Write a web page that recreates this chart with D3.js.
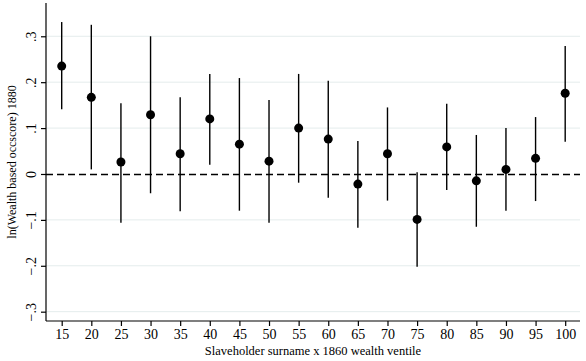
<!DOCTYPE html>
<html>
<head>
<meta charset="utf-8">
<script src="https://cdn.jsdelivr.net/npm/d3@7"></script>
<style>
  body { margin: 0; background: #fff; }
  svg text { font-family: "Liberation Serif", "Times New Roman", serif; fill: #000; }
</style>
</head>
<body>
<div id="myPlot"></div>
<script>
// Data
const ventiles  = [15, 20, 25, 30, 35, 40, 45, 50, 55, 60, 65, 70, 75, 80, 85, 90, 95, 100];
const estimates = [0.235, 0.167, 0.026, 0.129, 0.044, 0.120, 0.065, 0.028, 0.100, 0.076, -0.022, 0.044, -0.099, 0.059, -0.015, 0.010, 0.034, 0.176];
const ciLow     = [0.141, 0.010, -0.106, -0.042, -0.081, 0.020, -0.080, -0.106, -0.019, -0.052, -0.117, -0.058, -0.202, -0.035, -0.115, -0.080, -0.059, 0.070];
const ciHigh    = [0.331, 0.325, 0.154, 0.300, 0.167, 0.218, 0.209, 0.161, 0.218, 0.203, 0.072, 0.145, 0.004, 0.153, 0.085, 0.100, 0.124, 0.279];
const yTicks = [-0.3, -0.2, -0.1, 0, 0.1, 0.2, 0.3];

const rows = ventiles.map((v, i) => ({ v: v, est: estimates[i], lo: ciLow[i], hi: ciHigh[i] }));

// Dimensions
const width = 586, height = 361;
const pLeft = 46, pRight = 580, pTop = 3, pBottom = 321;

const svg = d3.select("#myPlot")
  .append("svg")
  .attr("width", width)
  .attr("height", height);

const x = d3.scaleLinear().domain([12.35, 102.5]).range([pLeft, pRight]);
const y = d3.scaleLinear().domain([-0.3203, 0.3725]).range([pBottom, pTop]);

// gridlines
svg.append("g")
  .selectAll("line")
  .data(yTicks.filter(d => d !== 0))
  .enter()
  .append("line")
  .attr("x1", pLeft)
  .attr("x2", pRight)
  .attr("y1", d => y(d))
  .attr("y2", d => y(d))
  .attr("stroke", "#e4ecec")
  .attr("stroke-width", 1);

// zero reference line
svg.append("line")
  .attr("x1", pLeft)
  .attr("x2", pRight)
  .attr("y1", y(0) + 0.5)
  .attr("y2", y(0) + 0.5)
  .attr("stroke", "#000")
  .attr("stroke-width", 1.3)
  .attr("stroke-dasharray", "7,4");

// Y axis
const fmt = d => d === 0 ? "0" : d3.format(".1f")(d).replace("0.", ".");
const yAxis = svg.append("g")
  .attr("transform", `translate(${pLeft},0)`)
  .call(d3.axisLeft(y).tickValues(yTicks).tickSize(5).tickFormat(fmt));
yAxis.select(".domain").attr("d", `M0,${pTop}V${pBottom}`).attr("stroke-width", 1.2);
yAxis.selectAll(".tick line").attr("stroke-width", 1.2);
yAxis.selectAll(".tick text")
  .attr("x", null).attr("dy", null)
  .attr("transform", "translate(-10,0) rotate(-90)")
  .attr("text-anchor", "middle")
  .style("font-size", "14px");

// X axis
const xAxis = svg.append("g")
  .attr("transform", `translate(0,${pBottom})`)
  .call(d3.axisBottom(x).tickValues(ventiles).tickSize(5).tickSizeOuter(0));
xAxis.select(".domain").attr("d", `M${pLeft},0H${pRight}`).attr("stroke-width", 1.2);
xAxis.selectAll(".tick line").attr("stroke-width", 1.2);
xAxis.selectAll(".tick text")
  .attr("y", 8)
  .style("font-size", "14px");

// confidence intervals
svg.append("g")
  .selectAll("line")
  .data(rows)
  .enter()
  .append("line")
  .attr("x1", d => x(d.v))
  .attr("x2", d => x(d.v))
  .attr("y1", d => y(d.lo))
  .attr("y2", d => y(d.hi))
  .attr("stroke", "#000")
  .attr("stroke-width", 1.4);

// point estimates
svg.append("g")
  .selectAll("circle")
  .data(rows)
  .enter()
  .append("circle")
  .attr("cx", d => x(d.v))
  .attr("cy", d => y(d.est))
  .attr("r", 4.5)
  .attr("fill", "#000");

// axis titles
svg.append("text")
  .attr("transform", `translate(16,${(pTop + pBottom) / 2}) rotate(-90)`)
  .attr("text-anchor", "middle")
  .style("font-size", "12px")
  .text("ln(Wealth based occscore) 1880");

svg.append("text")
  .attr("x", 313)
  .attr("y", 355)
  .attr("text-anchor", "middle")
  .style("font-size", "12.5px")
  .text("Slaveholder surname x 1860 wealth ventile");
</script>
</body>
</html>
